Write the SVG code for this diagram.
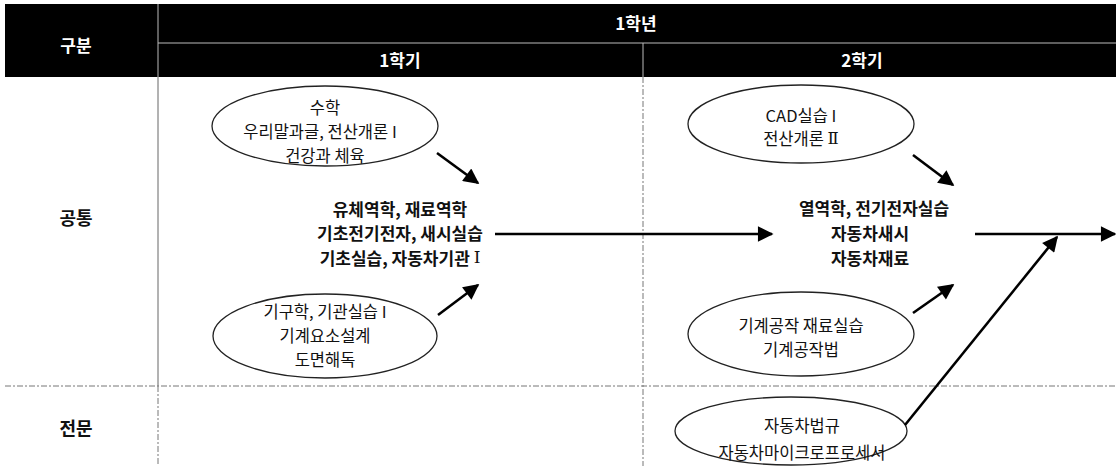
<svg xmlns="http://www.w3.org/2000/svg" width="1116" height="466" viewBox="0 0 1116 466">
<style>
text{font-family:"Noto Sans CJK KR","Noto Sans",sans-serif;text-anchor:middle;dominant-baseline:central;fill:#111}
.hd{fill:#fff;font-weight:bold;font-size:17px}
.lbl{font-weight:bold;font-size:18px}
.el{font-size:16.5px}
.mid{font-weight:bold;font-size:17px}
.rn{font-family:"DejaVu Serif","Liberation Serif",serif;font-weight:normal}
.oval{fill:#fff;stroke:#222;stroke-width:1.3}
.grid{stroke:#666;stroke-width:1;fill:none}
.dash{stroke:#777;stroke-width:1;stroke-dasharray:6 2 2 2;fill:none}
.arr{stroke:#000;stroke-width:2.6;fill:none;marker-end:url(#ah)}
</style>
<defs>
<marker id="ah" viewBox="0 0 10 10" refX="9" refY="5" markerWidth="7.5" markerHeight="6" markerUnits="strokeWidth" orient="auto">
<path d="M0,0 L10,5 L0,10 z" fill="#000"/>
</marker>
</defs>
<rect width="1116" height="466" fill="#fff"/>
<g id="header">
<rect x="5" y="4" width="1111" height="73" fill="#000"/>
<line x1="158" y1="43" x2="1116" y2="43" stroke="#bbb" stroke-width="1"/>
<line x1="158" y1="4" x2="158" y2="77" stroke="#bbb" stroke-width="1"/>
<line x1="643" y1="43" x2="643" y2="77" stroke="#bbb" stroke-width="1"/>
<text class="hd" x="76" y="44">구분</text>
<text class="hd" x="636" y="22">1학년</text>
<text class="hd" x="400" y="59">1학기</text>
<text class="hd" x="862" y="59">2학기</text>
</g>
<g id="grid">
<line class="grid" x1="158" y1="77" x2="158" y2="386"/>
<line class="dash" x1="158" y1="386" x2="158" y2="466"/>
<line class="dash" x1="643" y1="77" x2="643" y2="466"/>
<line class="dash" x1="5" y1="386" x2="1116" y2="386"/>
</g>
<g id="row-labels">
<text class="lbl" x="76" y="217">공통</text>
<text class="lbl" x="76" y="427">전문</text>
</g>
<g id="e1">
<ellipse class="oval" cx="325" cy="126" rx="113" ry="40"/>
<text class="el" x="325" y="107">수학</text>
<text class="el" x="320" y="131">우리말과글, 전산개론 I</text>
<text class="el" x="325" y="155">건강과 체육</text>
</g>
<g id="e2">
<ellipse class="oval" cx="325" cy="336" rx="112" ry="42"/>
<text class="el" x="325" y="311">기구학, 기관실습 I</text>
<text class="el" x="325" y="335">기계요소설계</text>
<text class="el" x="325" y="359">도면해독</text>
</g>
<g id="m1">
<text class="mid" x="400" y="208">유체역학, 재료역학</text>
<text class="mid" x="400" y="232">기초전기전자, 새시실습</text>
<text class="mid" x="400" y="257">기초실습, 자동차기관 <tspan class="rn">Ⅰ</tspan></text>
</g>
<g id="e3">
<ellipse class="oval" cx="801" cy="124" rx="113" ry="39"/>
<text class="el" x="801" y="115">CAD실습 I</text>
<text class="el" x="801" y="138">전산개론 <tspan class="rn">Ⅱ</tspan></text>
</g>
<g id="e4">
<ellipse class="oval" cx="801" cy="334" rx="113" ry="42"/>
<text class="el" x="801" y="325">기계공작 재료실습</text>
<text class="el" x="801" y="349">기계공작법</text>
</g>
<g id="e5">
<ellipse class="oval" cx="791" cy="431" rx="116" ry="34"/>
<text class="el" x="802" y="425">자동차법규</text>
<text class="el" x="802" y="452">자동차마이크로프로세서</text>
</g>
<g id="m2">
<text class="mid" x="874" y="207">열역학, 전기전자실습</text>
<text class="mid" x="870" y="232">자동차새시</text>
<text class="mid" x="870" y="257">자동차재료</text>
</g>
<g id="connectors">
<line class="arr" x1="437" y1="153" x2="478" y2="183"/>
<line class="arr" x1="438" y1="315" x2="478" y2="285"/>
<line class="arr" x1="495" y1="234" x2="772" y2="234"/>
<line class="arr" x1="913" y1="155" x2="953" y2="185"/>
<line class="arr" x1="913" y1="313" x2="953" y2="285"/>
<line class="arr" x1="975" y1="234" x2="1115" y2="234"/>
<line class="arr" x1="905" y1="425" x2="1057" y2="237"/>
</g>
</svg>
